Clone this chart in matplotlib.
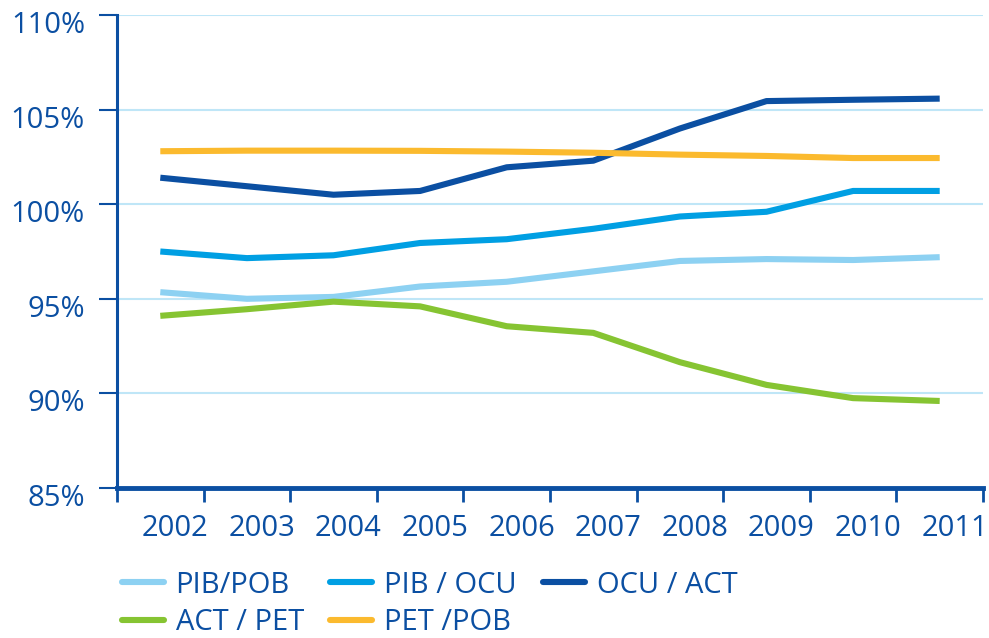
import matplotlib.pyplot as plt
import matplotlib.transforms as mtransforms
from matplotlib.ticker import FuncFormatter
import numpy as np

# datos (indices, %)
anios = ['2002', '2003', '2004', '2005', '2006', '2007', '2008', '2009', '2010', '2011']
pib_pob = [95.35, 95.0, 95.1, 95.65, 95.9, 96.45, 97.0, 97.1, 97.05, 97.2]
pib_ocu = [97.5, 97.15, 97.3, 97.95, 98.15, 98.7, 99.35, 99.6, 100.7, 100.7]
ocu_act = [101.4, 100.95, 100.5, 100.7, 101.95, 102.3, 104.0, 105.45, 105.52, 105.58]
act_pet = [94.1, 94.45, 94.85, 94.6, 93.55, 93.2, 91.65, 90.45, 89.75, 89.6]
pet_pob = [102.8, 102.83, 102.83, 102.82, 102.78, 102.72, 102.62, 102.55, 102.44, 102.44]

azul = '#0b4fa2'
plt.rcParams['font.family'] = ['Open Sans', 'DejaVu Sans']
fs = 21

fig = plt.figure(figsize=(9.89, 6.38), dpi=100)
ax = fig.add_axes([117/989, 1 - 488/638, (983 - 117)/989, (488 - 15)/638])

x = np.arange(len(anios))
lw = 4.4
l1, = ax.plot(x, pib_pob, color='#8dd1f2', lw=lw, label='PIB/POB', solid_capstyle='butt')
l2, = ax.plot(x, pib_ocu, color='#009fe3', lw=lw, label='PIB / OCU', solid_capstyle='butt')
l3, = ax.plot(x, ocu_act, color='#0b4fa2', lw=lw, label='OCU / ACT', solid_capstyle='butt')
l4, = ax.plot(x, act_pet, color='#86c432', lw=lw, label='ACT / PET', solid_capstyle='butt')
l5, = ax.plot(x, pet_pob, color='#fbba2e', lw=lw, label='PET /POB', solid_capstyle='butt')

ax.set_xlim(-0.5, 9.5)
ax.set_ylim(85, 110)
ax.set_yticks([85, 90, 95, 100, 105, 110])
ax.yaxis.set_major_formatter(FuncFormatter(lambda v, p: '%d%%' % v))
ax.grid(axis='y', color='#bfe6f7', lw=1.5)
ax.set_axisbelow(True)

# ticks entre categorias, etiquetas desplazadas
ax.set_xticks(np.arange(-0.5, 10, 1))
ax.set_xticklabels([])
ax.set_xticks(x, minor=True)
ax.set_xticklabels(anios, minor=True)
ax.tick_params(axis='x', which='minor', length=0, pad=19, labelsize=fs, labelcolor=azul)
ax.tick_params(axis='x', which='major', length=10, width=2, color=azul, direction='out')
ax.tick_params(axis='y', length=13, width=1.5, color=azul, pad=10, labelsize=fs, labelcolor=azul)
off_x = mtransforms.ScaledTranslation(15/100, 0, fig.dpi_scale_trans)
for lab in ax.get_xticklabels(minor=True):
    lab.set_transform(lab.get_transform() + off_x)
off_y = mtransforms.ScaledTranslation(0, -7/100, fig.dpi_scale_trans)
for lab in ax.get_yticklabels():
    lab.set_transform(lab.get_transform() + off_y)

for s in ['top', 'right']:
    ax.spines[s].set_visible(False)
ax.spines['left'].set_color(azul)
ax.spines['left'].set_linewidth(2.2)
ax.spines['bottom'].set_color(azul)
ax.spines['bottom'].set_linewidth(3.5)

leg = fig.legend([l1, l4, l2, l5, l3], ['PIB/POB', 'ACT / PET', 'PIB / OCU', 'PET /POB', 'OCU / ACT'],
                 ncol=3, loc='upper left', bbox_to_anchor=(107/989, 1 - 556/638), frameon=False,
                 fontsize=fs, handlelength=1.45, handletextpad=0.4, columnspacing=0.9,
                 labelspacing=0.3, borderpad=0, labelcolor=azul)
for h in leg.legend_handles:
    h.set_linewidth(4.4)
    h.set_solid_capstyle('round')

fig.savefig('out.png', dpi=100)
